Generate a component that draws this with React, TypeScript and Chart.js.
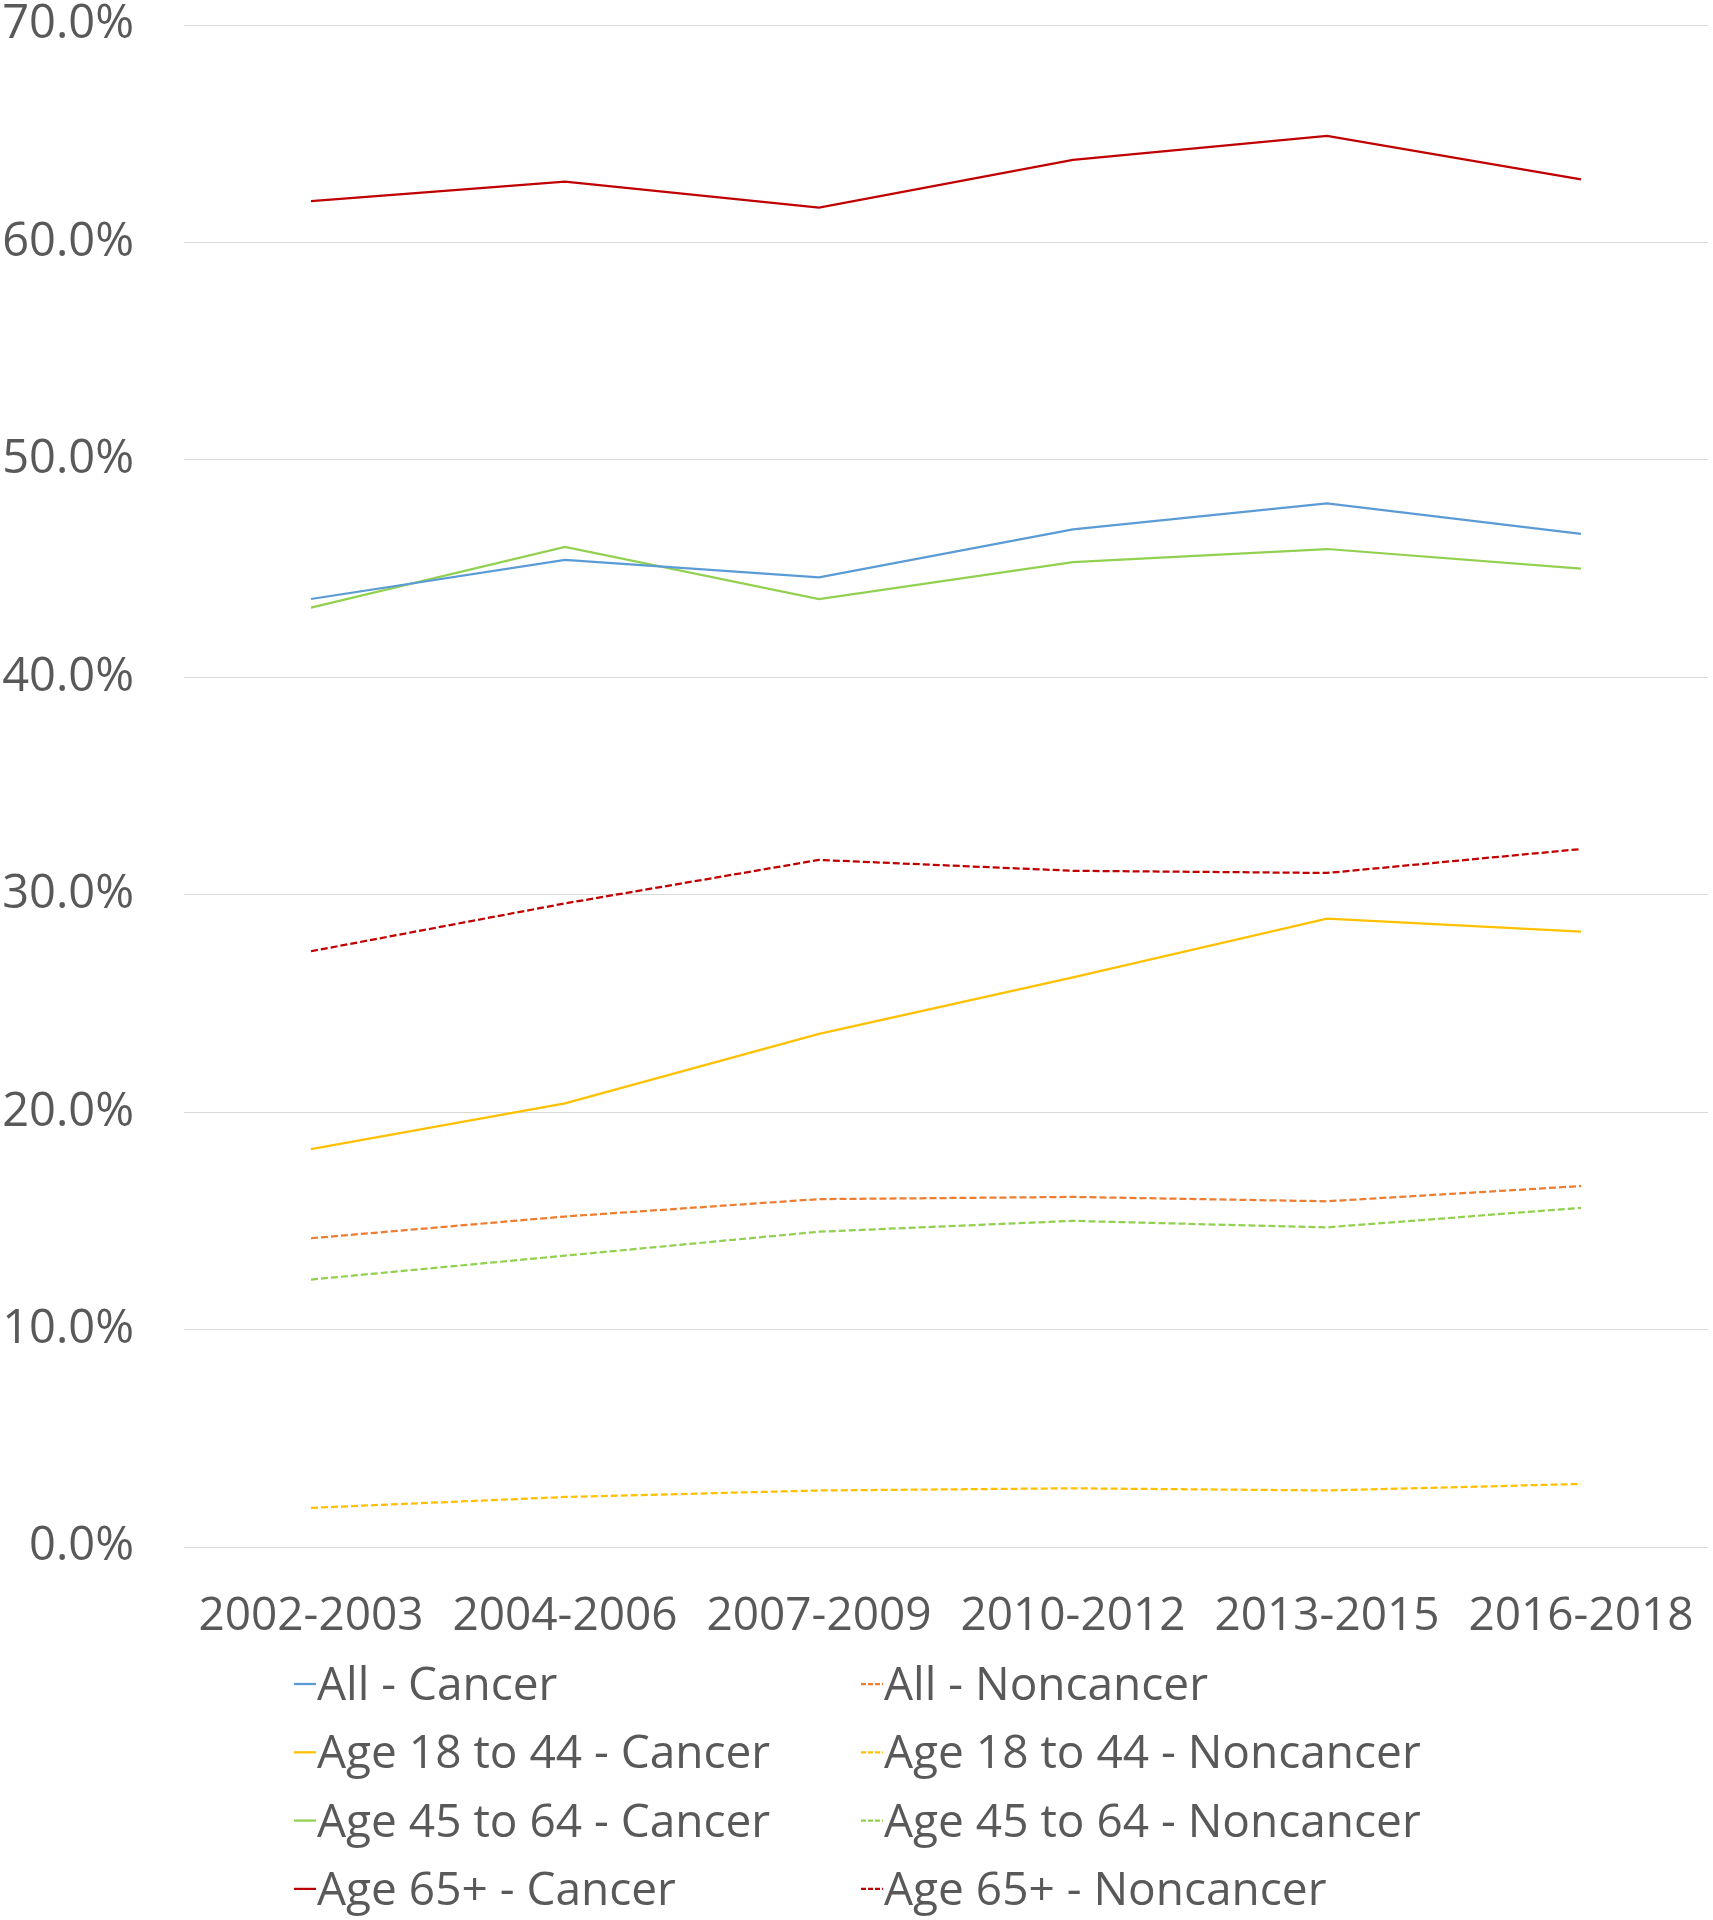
import React, { useEffect, useRef } from 'react';
import { Chart, registerables } from 'chart.js';

Chart.register(...registerables);

const categories = ['2002-2003', '2004-2006', '2007-2009', '2010-2012', '2013-2015', '2016-2018'];

const allCancer = [43.6, 45.4, 44.6, 46.8, 48.0, 46.6];
const allNoncancer = [14.2, 15.2, 16.0, 16.1, 15.9, 16.6];
const age18to44Cancer = [18.3, 20.4, 23.6, 26.2, 28.9, 28.3];
const age18to44Noncancer = [1.8, 2.3, 2.6, 2.7, 2.6, 2.9];
const age45to64Cancer = [43.2, 46.0, 43.6, 45.3, 45.9, 45.0];
const age45to64Noncancer = [12.3, 13.4, 14.5, 15.0, 14.7, 15.6];
const age65Cancer = [61.9, 62.8, 61.6, 63.8, 64.9, 62.9];
const age65Noncancer = [27.4, 29.6, 31.6, 31.1, 31.0, 32.1];

const yMin = 0;
const yMax = 70;
const yStep = 10;

const FONT = '"Open Sans", "DejaVu Sans", sans-serif';
const TEXT = '#595959';
const DOT = [7, 3];

const legendPlugin = {
  id: 'gridLegend',
  afterDraw(chart: any) {
    const ctx = chart.ctx;
    const colX = [294, 861];
    const top = 1684;
    const gap = 68.3;
    ctx.save();
    ctx.font = `46px ${FONT}`;
    ctx.textBaseline = 'middle';
    ctx.textAlign = 'left';
    chart.data.datasets.forEach((d: any, i: number) => {
      const col = i % 2;
      const row = Math.floor(i / 2);
      const x = colX[col];
      const y = top + row * gap;
      ctx.strokeStyle = d.borderColor;
      ctx.lineWidth = 2.25;
      ctx.setLineDash(d.borderDash && d.borderDash.length ? [5, 2] : []);
      ctx.beginPath();
      ctx.moveTo(x, y);
      ctx.lineTo(x + 22, y);
      ctx.stroke();
      ctx.setLineDash([]);
      ctx.fillStyle = TEXT;
      ctx.fillText(d.label, x + 23, y + 3);
    });
    ctx.restore();
  },
};

export default function App() {
  const ref = useRef<HTMLCanvasElement | null>(null);

  useEffect(() => {
    if (!ref.current) return;
    const mk = (label: string, data: number[], color: string, dashed: boolean) => ({
      label,
      data,
      borderColor: color,
      backgroundColor: color,
      borderWidth: 2.25,
      borderDash: dashed ? DOT : [],
      pointRadius: 0,
      pointHoverRadius: 0,
      fill: false,
      tension: 0,
    });
    const chart = new Chart(ref.current, {
      type: 'line',
      data: {
        labels: categories,
        datasets: [
          mk('All - Cancer', allCancer, '#5B9BD5', false),
          mk('All - Noncancer', allNoncancer, '#ED7D31', true),
          mk('Age 18 to 44 - Cancer', age18to44Cancer, '#FFC000', false),
          mk('Age 18 to 44 - Noncancer', age18to44Noncancer, '#FFC000', true),
          mk('Age 45 to 64 - Cancer', age45to64Cancer, '#92D050', false),
          mk('Age 45 to 64 - Noncancer', age45to64Noncancer, '#92D050', true),
          mk('Age 65+ - Cancer', age65Cancer, '#C00000', false),
          mk('Age 65+ - Noncancer', age65Noncancer, '#C00000', true),
        ],
      },
      options: {
        responsive: false,
        animation: false,
        devicePixelRatio: 1,
        layout: { padding: { top: 25, left: 0, right: 5, bottom: 253 } },
        plugins: {
          legend: { display: false },
          tooltip: { enabled: false },
        },
        scales: {
          x: {
            offset: true,
            grid: { display: false, drawTicks: false },
            border: { display: false },
            ticks: {
              color: TEXT,
              font: { family: FONT, size: 46, lineHeight: 1 },
              padding: 47,
              maxRotation: 0,
              autoSkip: false,
            },
            afterFit: (s: any) => {
              s.height = 120;
              s.paddingLeft = 0;
              s.paddingRight = 0;
            },
          },
          y: {
            min: yMin,
            max: yMax,
            grid: { color: '#D9D9D9', lineWidth: 1, drawTicks: false },
            border: { display: false },
            ticks: {
              stepSize: yStep,
              color: TEXT,
              font: { family: FONT, size: 47, lineHeight: 1 },
              padding: 50,
              callback: (v: any) => Number(v).toFixed(1) + '%',
            },
            afterFit: (s: any) => {
              s.width = 184;
              s.paddingTop = 0;
              s.paddingBottom = 0;
            },
          },
        },
      },
      plugins: [legendPlugin],
    });
    if ((document as any).fonts && (document as any).fonts.ready) {
      (document as any).fonts.ready.then(() => chart.update());
    }
    return () => chart.destroy();
  }, []);

  return (
    <div style={{ position: 'absolute', left: 0, top: 0, width: 1713, height: 1920, background: '#fff' }}>
      <canvas ref={ref} width={1713} height={1920} style={{ display: 'block' }} />
    </div>
  );
}
